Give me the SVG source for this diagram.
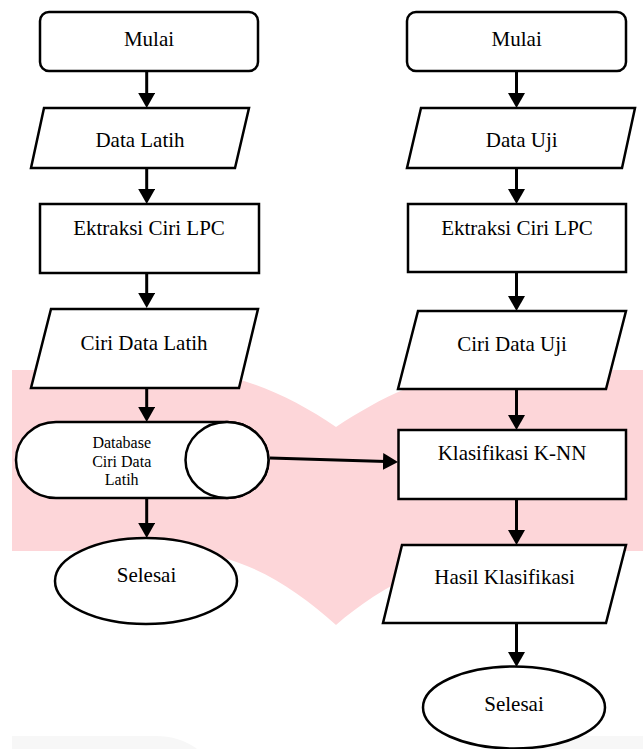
<svg xmlns="http://www.w3.org/2000/svg" width="643" height="749" viewBox="0 0 643 749">
<style>
.s{fill:#fff;stroke:#000;stroke-width:2.5;stroke-linejoin:miter}
.t{font-family:"Liberation Serif","Times New Roman",serif;font-size:21px;fill:#000;text-anchor:middle}
.ts{font-family:"Liberation Serif","Times New Roman",serif;font-size:16px;fill:#000;text-anchor:middle}
.c{stroke:#000;stroke-width:3;fill:none}
</style>
<defs>
<marker id="ah" markerUnits="userSpaceOnUse" markerWidth="16" markerHeight="18" viewBox="0 0 16 18" refX="3" refY="8.5" orient="auto">
<path d="M0,0 L15,8.5 L0,17 Z" fill="#000"/>
</marker>
</defs>
<g id="background">
<path d="M12,370 L185,370 C235,372 290,395 336,427 C380,398 430,372 485,370 L643,370 L643,551 L505,551 C445,553 382,585 336,625 C292,585 240,553 180,551 L12,551 Z" fill="#fdd6d9"/>
<path d="M12,736 L155,736 C172,736 185,740 197,749 L12,749 Z" fill="#f7f7f7"/>
<rect x="540" y="736" width="103" height="13" fill="#f7f7f7"/>
</g>
<g id="connectors">
<line class="c" x1="146.7" y1="71" x2="146.7" y2="96" marker-end="url(#ah)"/>
<line class="c" x1="146.7" y1="168" x2="146.7" y2="192" marker-end="url(#ah)"/>
<line class="c" x1="146.7" y1="273" x2="146.7" y2="296" marker-end="url(#ah)"/>
<line class="c" x1="146.7" y1="388" x2="146.7" y2="410" marker-end="url(#ah)"/>
<line class="c" x1="146.7" y1="499" x2="146.7" y2="526" marker-end="url(#ah)"/>
<line class="c" x1="516.5" y1="71" x2="516.5" y2="96" marker-end="url(#ah)"/>
<line class="c" x1="516.5" y1="168" x2="516.5" y2="192" marker-end="url(#ah)"/>
<line class="c" x1="516.5" y1="272" x2="516.5" y2="299" marker-end="url(#ah)"/>
<line class="c" x1="516.5" y1="389" x2="516.5" y2="418" marker-end="url(#ah)"/>
<line class="c" x1="516.5" y1="499" x2="516.5" y2="533" marker-end="url(#ah)"/>
<line class="c" x1="516.5" y1="623" x2="516.5" y2="655" marker-end="url(#ah)"/>
<line class="c" x1="270" y1="458" x2="386" y2="461.6" marker-end="url(#ah)"/>
</g>
<g id="mulai-left">
<rect class="s" x="40" y="12" width="218" height="59" rx="9"/>
<text class="t" x="149" y="46">Mulai</text>
</g>
<g id="data-latih">
<polygon class="s" points="44,108 249,108 235,168 31,168"/>
<text class="t" x="140" y="147">Data Latih</text>
</g>
<g id="ektraksi-left">
<rect class="s" x="40" y="204" width="219" height="69"/>
<text class="t" x="149" y="235">Ektraksi Ciri LPC</text>
</g>
<g id="ciri-data-latih">
<polygon class="s" points="51,309 258,309 239,388 31,388"/>
<text class="t" x="144" y="350">Ciri Data Latih</text>
</g>
<g id="database">
<path class="s" d="M56,422 L227,422 A41.5,38 0 0 1 227,498 L56,498 A40,38 0 0 1 56,422 Z"/>
<ellipse class="s" cx="227" cy="460" rx="41.5" ry="38"/>
<text class="ts" x="121.7" y="448">Database</text>
<text class="ts" x="121.7" y="467">Ciri Data</text>
<text class="ts" x="121.7" y="485">Latih</text>
</g>
<g id="selesai-left">
<ellipse class="s" cx="146" cy="581" rx="91" ry="43"/>
<text class="t" x="146.5" y="582">Selesai</text>
</g>
<g id="mulai-right">
<rect class="s" x="407" y="12" width="219" height="59" rx="9"/>
<text class="t" x="516.7" y="46">Mulai</text>
</g>
<g id="data-uji">
<polygon class="s" points="421,108 635,108 622,168 407,168"/>
<text class="t" x="521.7" y="147">Data Uji</text>
</g>
<g id="ektraksi-right">
<rect class="s" x="408" y="204" width="218" height="68"/>
<text class="t" x="517" y="235">Ektraksi Ciri LPC</text>
</g>
<g id="ciri-data-uji">
<polygon class="s" points="418,311 626,311 606,389 398,389"/>
<text class="t" x="512" y="351">Ciri Data Uji</text>
</g>
<g id="klasifikasi">
<rect class="s" x="398.5" y="430" width="227.5" height="69"/>
<text class="t" x="512" y="460">Klasifikasi K-NN</text>
</g>
<g id="hasil-klasifikasi">
<polygon class="s" points="402,545 626,545 606,623 383,623"/>
<text class="t" x="504.5" y="584">Hasil Klasifikasi</text>
</g>
<g id="selesai-right">
<ellipse class="s" cx="514" cy="707.5" rx="91" ry="41"/>
<text class="t" x="514" y="711">Selesai</text>
</g>
</svg>
